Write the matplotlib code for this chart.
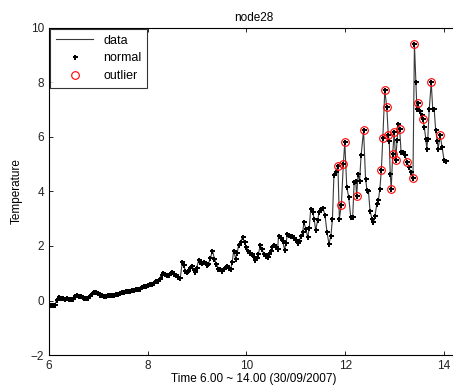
import numpy as np
import matplotlib
matplotlib.use("Agg")
import matplotlib.pyplot as plt

plt.rcParams['font.family'] = ['Liberation Sans', 'DejaVu Sans']

# time (hours) and temperature readings of node28
times = [6.00, 6.04, 6.08, 6.12, 6.16, 6.20, 6.24, 6.28, 6.32, 6.36, 6.40, 6.44, 6.48,
         6.52, 6.56, 6.60, 6.64, 6.68, 6.72, 6.76, 6.80, 6.84, 6.88, 6.92, 6.96, 7.00,
         7.04, 7.08, 7.12, 7.16, 7.20, 7.24, 7.28, 7.32, 7.36, 7.40, 7.44, 7.48, 7.52,
         7.56, 7.60, 7.64, 7.68, 7.72, 7.76, 7.80, 7.84, 7.88, 7.92, 7.96, 8.00, 8.04,
         8.08, 8.12, 8.16, 8.20, 8.24, 8.28, 8.31, 8.35, 8.39, 8.43, 8.47, 8.50, 8.54,
         8.58, 8.62, 8.66, 8.70, 8.73, 8.76, 8.79, 8.82, 8.86, 8.90, 8.93, 8.96, 8.99,
         9.03, 9.06, 9.10, 9.13, 9.17, 9.20, 9.23, 9.27, 9.31, 9.35, 9.39, 9.43, 9.47,
         9.51, 9.55, 9.58, 9.61, 9.65, 9.68, 9.71, 9.74, 9.78, 9.81, 9.84, 9.88, 9.92,
         9.96, 10.00, 10.04, 10.08, 10.12, 10.15, 10.18, 10.21, 10.24, 10.28, 10.31,
         10.35, 10.39, 10.43, 10.46, 10.49, 10.52, 10.55, 10.59, 10.63, 10.65, 10.69,
         10.73, 10.77, 10.80, 10.83, 10.87, 10.90, 10.93, 10.96, 11.00, 11.04, 11.07,
         11.10, 11.14, 11.16, 11.20, 11.24, 11.27, 11.30, 11.34, 11.37, 11.40, 11.44,
         11.47, 11.51, 11.55, 11.59, 11.63, 11.67, 11.71, 11.74, 11.77, 11.81, 11.85,
         11.88, 11.92, 11.96, 11.99, 12.03, 12.07, 12.11, 12.15, 12.18, 12.21, 12.23,
         12.26, 12.29, 12.32, 12.37, 12.41, 12.44, 12.47, 12.50, 12.54, 12.57, 12.60,
         12.64, 12.67, 12.70, 12.73, 12.76, 12.80, 12.84, 12.87, 12.89, 12.91, 12.93,
         12.96, 12.99, 13.02, 13.05, 13.07, 13.10, 13.13, 13.17, 13.21, 13.25, 13.29,
         13.33, 13.37, 13.40, 13.43, 13.45, 13.47, 13.51, 13.55, 13.57, 13.60, 13.63,
         13.65, 13.67, 13.70, 13.74, 13.77, 13.80, 13.83, 13.86, 13.88, 13.92, 13.96,
         14.00, 14.03]
temps = [-0.18, -0.17, -0.18, -0.15, 0.02, 0.12, 0.10, 0.08, 0.06, 0.08, 0.05, 0.04, 0.07,
         0.15, 0.20, 0.18, 0.15, 0.12, 0.10, 0.08, 0.10, 0.16, 0.25, 0.30, 0.32, 0.28,
         0.22, 0.20, 0.18, 0.18, 0.19, 0.20, 0.20, 0.22, 0.24, 0.25, 0.28, 0.30, 0.33,
         0.36, 0.35, 0.34, 0.37, 0.40, 0.42, 0.44, 0.43, 0.48, 0.52, 0.55, 0.58, 0.62,
         0.62, 0.66, 0.70, 0.72, 0.80, 0.95, 1.00, 0.96, 0.92, 0.94, 1.00, 1.04, 0.98,
         0.92, 0.88, 0.84, 1.41, 1.30, 1.10, 1.05, 1.07, 1.18, 1.26, 1.12, 1.04, 1.20,
         1.47, 1.42, 1.38, 1.40, 1.36, 1.32, 1.35, 1.55, 1.83, 1.54, 1.35, 1.17, 1.14,
         1.10, 1.16, 1.22, 1.26, 1.20, 1.17, 1.40, 1.83, 1.54, 1.75, 2.02, 2.15, 2.32,
         2.14, 1.95, 1.83, 1.75, 1.71, 1.60, 1.47, 1.55, 1.71, 2.02, 1.90,
         1.71, 1.65, 1.59, 1.70, 1.83, 1.95, 2.02, 1.96, 1.90, 2.38, 2.28,
         2.20, 1.87, 2.10, 2.45, 2.42, 2.38, 2.38, 2.30, 2.22, 2.10, 2.20,
         2.35, 2.50, 2.87, 2.64, 2.32, 2.65, 3.36, 3.24, 3.00, 2.57, 2.94,
         3.24, 3.36, 3.38, 3.12, 2.50, 2.08, 2.38, 3.00, 4.59, 4.71, 4.95,
         3.00, 3.49, 4.99, 5.81, 4.16, 3.79, 3.06, 3.08, 4.34, 4.40, 3.83,
         4.65, 4.40, 5.32, 6.24, 4.47, 4.04, 4.00, 3.30, 3.00, 2.87, 3.10,
         3.55, 3.67, 4.10, 4.77, 5.97, 7.71, 7.09, 6.09, 5.85, 4.65, 4.10,
         5.38, 6.18, 5.14, 5.90, 6.49, 6.30, 5.44, 5.44, 5.32, 5.08, 4.89,
         4.70, 4.48, 9.42, 8.00, 7.03, 7.24, 6.97, 6.80, 6.67, 6.36, 5.93,
         5.57, 5.93, 7.03, 8.00, 7.03, 7.03, 6.24, 5.87, 5.57, 6.06, 5.63,
         5.14, 5.10]
# readings flagged as outliers (times)
outlier_times = [11.85, 11.92, 11.96, 11.99, 12.23, 12.37, 12.73, 12.76, 12.80, 12.84,
                 12.87, 12.93, 12.96, 12.99, 13.02, 13.10, 13.25, 13.37, 13.40, 13.47,
                 13.57, 13.74, 13.92]

t = np.array(times)
v = np.array(temps)
mask = np.isin(t, outlier_times)

fig = plt.figure(figsize=(4.53, 3.88), dpi=100)
ax = fig.add_axes([0.108, 0.085, 0.905, 0.843])

ax.plot(t, v, '-', color='#3a3a3a', lw=0.8, label='data')
ax.plot(t, v, 'P', color='black', ms=3.6, mew=0, ls='none', label='normal')
ax.plot(t[mask], v[mask], 'o', mfc='none', mec='red', ms=5.5, mew=0.8, ls='none', label='outlier')

ax.set_xlim(6, 14.3)
ax.set_ylim(-2, 10)
ax.set_xticks([6, 8, 10, 12, 14])
ax.set_yticks([-2, 0, 2, 4, 6, 8, 10])
ax.tick_params(direction='in', top=True, right=True, labelsize=8.5, length=3, width=0.6,
               labelcolor='#222222')
for s in ax.spines.values():
    s.set_linewidth(0.8)

ax.set_title('node28', fontsize=8.5, pad=5)
ax.set_xlabel('Time 6.00 ~ 14.00 (30/09/2007)', fontsize=8.5, labelpad=1)
ax.set_ylabel('Temperature', fontsize=8.5, labelpad=6)

leg = ax.legend(loc='upper left', fontsize=9, frameon=True, fancybox=False,
                edgecolor='black', borderaxespad=0.1, handlelength=3, labelspacing=0.45,
                borderpad=0.45)
leg.get_frame().set_linewidth(0.8)

fig.savefig('out.png', dpi=100)
